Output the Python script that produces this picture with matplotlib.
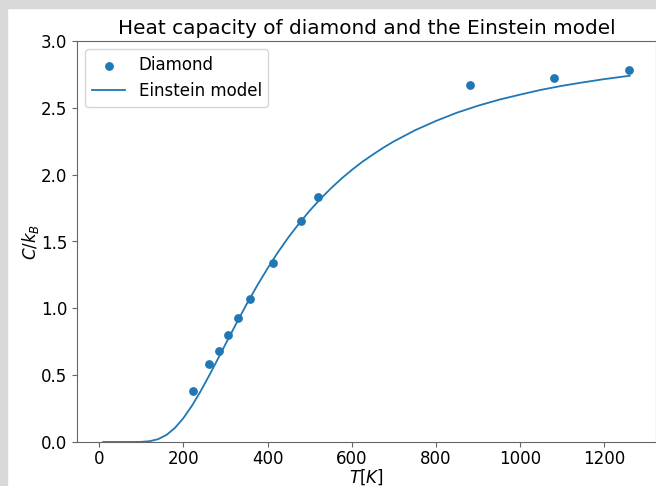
import matplotlib
matplotlib.use("Agg")
import matplotlib.pyplot as plt
from matplotlib.patches import Rectangle

# ---------------------------------------------------------
# Data
# ---------------------------------------------------------
# measured heat capacity of diamond
T_data = [222, 262, 284, 306, 331, 358, 413, 479, 520, 880, 1080, 1258]
C_data = [0.38, 0.58, 0.68, 0.80, 0.93, 1.07, 1.34, 1.65, 1.83, 2.67, 2.72, 2.78]

# Einstein model curve
T_model = [10, 50, 80, 100, 120, 140, 160, 180, 200, 220, 240, 260, 280, 300,
           325, 350, 375, 400, 425, 450, 475, 500, 525, 550, 575, 600, 625,
           650, 675, 700, 750, 800, 850, 900, 950, 1000, 1050, 1100, 1150,
           1200, 1260]
C_model = [0.0, 0.0, 0.0, 0.001, 0.006, 0.021, 0.053, 0.105, 0.178, 0.269,
           0.374, 0.489, 0.609, 0.731, 0.882, 1.029, 1.168, 1.299, 1.421,
           1.533, 1.635, 1.730, 1.817, 1.896, 1.969, 2.035, 2.096, 2.150,
           2.202, 2.249, 2.332, 2.402, 2.464, 2.516, 2.561, 2.599, 2.635,
           2.665, 2.691, 2.715, 2.740]

plt.rcParams["font.size"] = 12

fig = plt.figure(figsize=(6.56, 4.86), dpi=100)
fig.patch.set_facecolor("white")

# light grey border left/top of the screenshot
fig.patches.append(Rectangle((0, 0), 7 / 656, 1, transform=fig.transFigure,
                             color="#d9d9d9", zorder=-10))
fig.patches.append(Rectangle((0, 1 - 8 / 486), 1, 8 / 486, transform=fig.transFigure,
                             color="#d9d9d9", zorder=-10))

ax = fig.add_axes([77 / 656, 44 / 486, 579 / 656, 401 / 486])

ax.scatter(T_data, C_data, s=28, color="#1f77b4", label="Diamond", zorder=3)
ax.plot(T_model, C_model, color="#1f77b4", lw=1.3, label="Einstein model")

ax.set_ylim(0, 3.0)
ax.set_title("Heat capacity of diamond and the Einstein model", pad=5)
ax.set_xlabel("$T[K]$", labelpad=0)
ax.set_ylabel("$C/k_B$", labelpad=0)
ax.legend(loc="upper left")

for s in ax.spines.values():
    s.set_color("#666666")
ax.tick_params(color="#666666")
ax.tick_params(axis="x", pad=2)

fig.savefig("out.png", dpi=100)
